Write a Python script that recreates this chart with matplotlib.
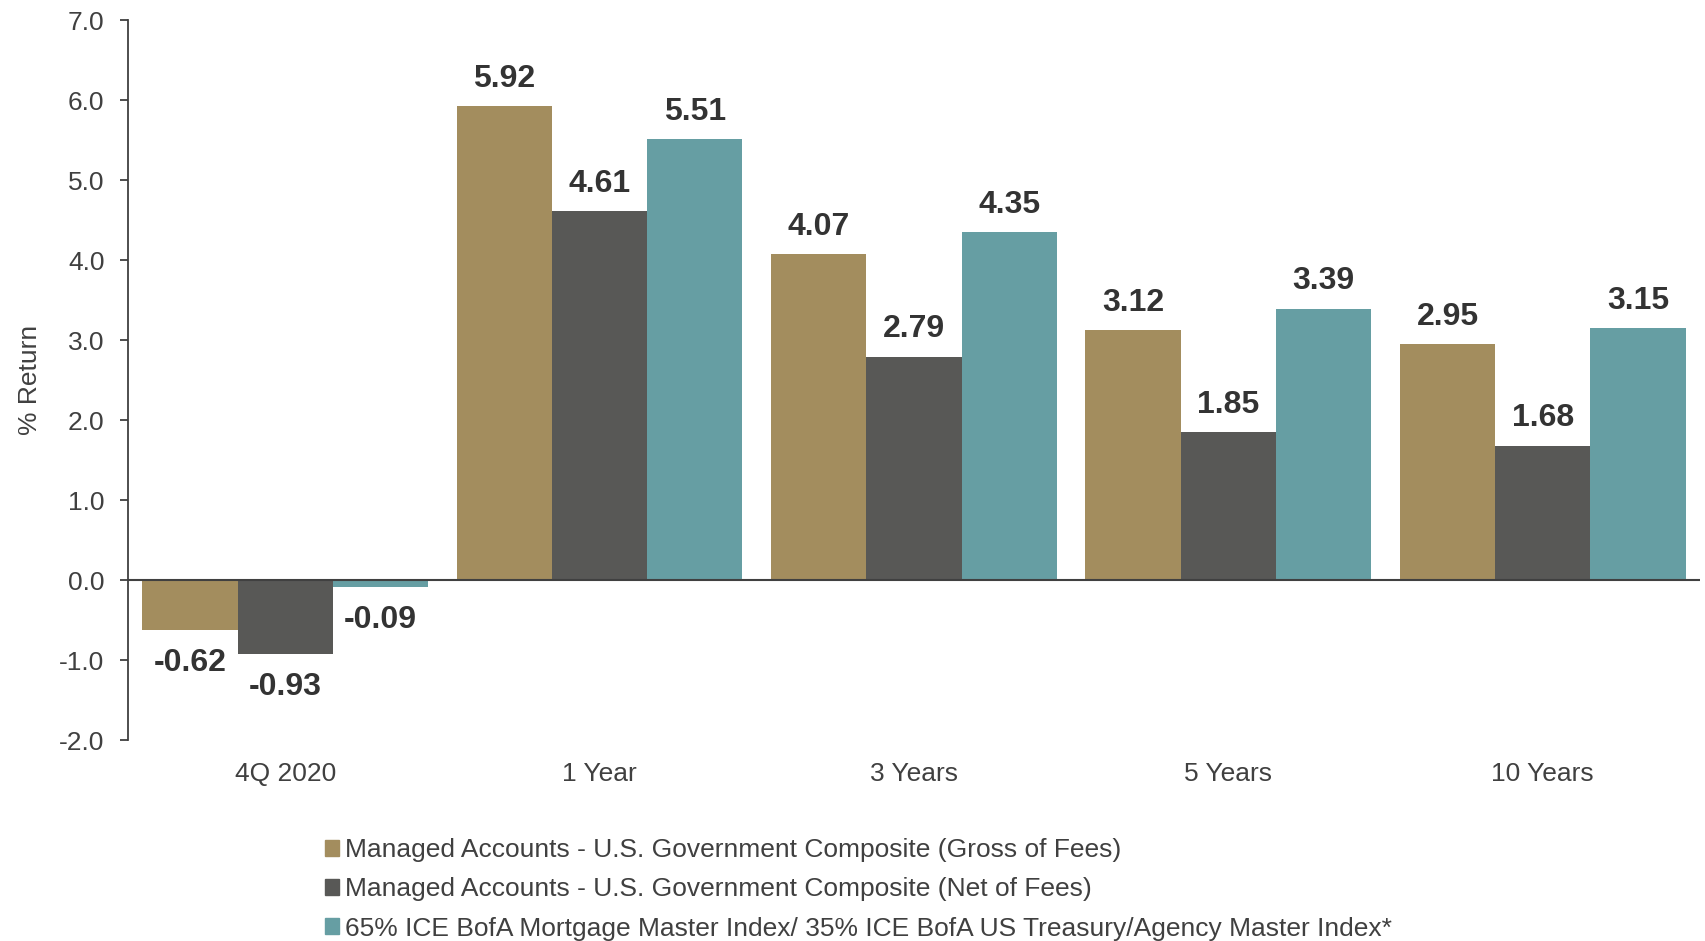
import matplotlib.pyplot as plt
from matplotlib.patches import Patch
import numpy as np

plt.rcParams['font.family'] = ['Liberation Sans', 'DejaVu Sans']

# Data
periods = ['4Q 2020', '1 Year', '3 Years', '5 Years', '10 Years']
gross = [-0.62, 5.92, 4.07, 3.12, 2.95]
net = [-0.93, 4.61, 2.79, 1.85, 1.68]
index = [-0.09, 5.51, 4.35, 3.39, 3.15]
series_names = [
    'Managed Accounts - U.S. Government Composite (Gross of Fees)',
    'Managed Accounts - U.S. Government Composite (Net of Fees)',
    '65% ICE BofA Mortgage Master Index/ 35% ICE BofA US Treasury/Agency Master Index*',
]
colors = ['#A38D5E', '#585856', '#669EA3']
text_color = '#404040'

fig = plt.figure(figsize=(17.05, 9.41), dpi=100)
ax = fig.add_axes([0.0751, 0.2136, 0.9219, 0.7651])

x = np.arange(len(periods))
w = 0.303
for i, (vals, c) in enumerate(zip([gross, net, index], colors)):
    bars = ax.bar(x + (i - 1) * w, vals, w, color=c, edgecolor='none')
    # positive labels sit above the bar, negative ones a bit further below
    ax.bar_label(bars, labels=[f'{v:.2f}' if v >= 0 else '' for v in vals],
                 padding=9, fontsize=23, fontweight='bold', color='#333333')
    ax.bar_label(bars, labels=[f'{v:.2f}' if v < 0 else '' for v in vals],
                 padding=13, fontsize=23, fontweight='bold', color='#333333')

ax.axhline(0, color=text_color, lw=1.5, zorder=3)
ax.set_xlim(-0.5, len(periods) - 0.5)
ax.set_ylim(-2, 7)
ax.set_yticks(np.arange(-2, 8, 1))
ax.set_yticklabels([f'{v:.1f}' for v in np.arange(-2, 8, 1)])
ax.set_xticks(x)
ax.set_xticklabels(periods)

for s in ['top', 'right', 'bottom']:
    ax.spines[s].set_visible(False)
ax.spines['left'].set_color(text_color)
ax.spines['left'].set_linewidth(1.3)
ax.tick_params(axis='y', length=6, width=1.3, color=text_color, pad=11,
               labelsize=19, labelcolor=text_color)
ax.tick_params(axis='x', length=0, pad=16, labelsize=19, labelcolor=text_color)
ax.set_ylabel('% Return', fontsize=19, color=text_color, labelpad=12)

handles = [Patch(color=c) for c in colors]
fig.legend(handles, series_names, loc='upper left',
           bbox_to_anchor=(0.1906, 0.109), frameon=False, fontsize=19,
           handlelength=0.55, handleheight=0.55, handletextpad=0.2,
           labelspacing=0.57, borderpad=0, borderaxespad=0,
           labelcolor=text_color)

fig.savefig('out.png', dpi=100)
